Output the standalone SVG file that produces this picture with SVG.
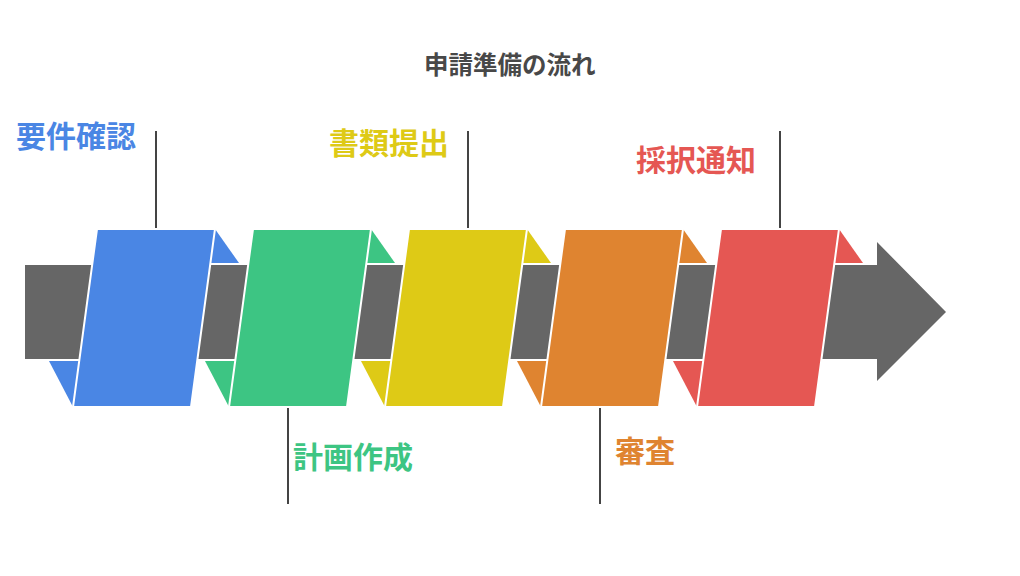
<svg xmlns="http://www.w3.org/2000/svg" width="1020" height="576" viewBox="0 0 1020 576">
<style>
.lbl{font-family:"Noto Sans CJK JP","Noto Sans CJK SC",sans-serif;font-weight:bold;font-size:30px}
.ttl{font-family:"Noto Sans CJK JP","Noto Sans CJK SC",sans-serif;font-weight:bold;font-size:24.5px;fill:#484848}
.para{stroke:#fff;stroke-width:2;stroke-linejoin:miter}
.tri{stroke:none}
.ln{stroke:#444;stroke-width:2;fill:none}
</style>
<rect width="1020" height="576" fill="#fff"/>
<text class="ttl" x="424" y="74">申請準備の流れ</text>
<g id="band">
<polygon points="25,265 877,265 877,242 946,312 877,381 877,359 25,359" fill="#666666"/>
</g>
<g id="connectors">
<line class="ln" x1="156" y1="131" x2="156" y2="229"/>
<line class="ln" x1="468" y1="131" x2="468" y2="229"/>
<line class="ln" x1="780" y1="131" x2="780" y2="229"/>
<line class="ln" x1="288" y1="407" x2="288" y2="504"/>
<line class="ln" x1="600" y1="407" x2="600" y2="504"/>
</g>
<g id="node1">
<polygon class="tri" fill="#4A86E4" points="215,229 239,263 205,263"/>
<polygon class="tri" fill="#4A86E4" points="73,407 49,361 85,361"/>
<polygon class="para" fill="#4A86E4" points="97,229 215,229 191,407 73,407"/>
<text class="lbl" x="16" y="147" fill="#4A86E4">要件確認</text>
</g>
<g id="node2">
<polygon class="tri" fill="#3DC583" points="371,229 395,263 361,263"/>
<polygon class="tri" fill="#3DC583" points="229,407 205,361 241,361"/>
<polygon class="para" fill="#3DC583" points="253,229 371,229 347,407 229,407"/>
<text class="lbl" x="293" y="468" fill="#3DC583">計画作成</text>
</g>
<g id="node3">
<polygon class="tri" fill="#DECA16" points="527,229 551,263 517,263"/>
<polygon class="tri" fill="#DECA16" points="385,407 361,361 397,361"/>
<polygon class="para" fill="#DECA16" points="409,229 527,229 503,407 385,407"/>
<text class="lbl" x="329" y="154" fill="#DECA16">書類提出</text>
</g>
<g id="node4">
<polygon class="tri" fill="#DF8430" points="683,229 707,263 673,263"/>
<polygon class="tri" fill="#DF8430" points="541,407 517,361 553,361"/>
<polygon class="para" fill="#DF8430" points="565,229 683,229 659,407 541,407"/>
<text class="lbl" x="615" y="462" fill="#DF8430">審査</text>
</g>
<g id="node5">
<polygon class="tri" fill="#E55753" points="839,229 863,263 829,263"/>
<polygon class="tri" fill="#E55753" points="697,407 673,361 709,361"/>
<polygon class="para" fill="#E55753" points="721,229 839,229 815,407 697,407"/>
<text class="lbl" x="636" y="171" fill="#E55753">採択通知</text>
</g>
</svg>
